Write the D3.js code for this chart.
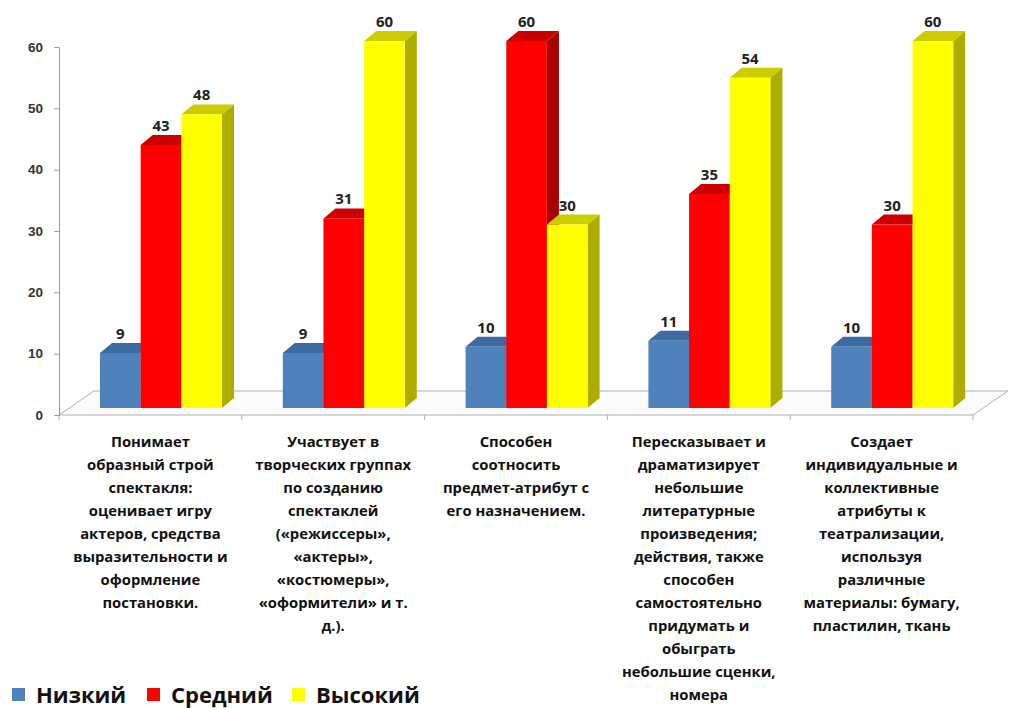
<!DOCTYPE html>
<html>
<head>
<meta charset="utf-8">
<script src="https://cdn.jsdelivr.net/npm/d3@7"></script>
<style>
  body { margin: 0; background: #fff; }
  svg { display: block; font-family: "Open Sans", "DejaVu Sans", sans-serif; }
  .axis text { font-size: 13.5px; font-weight: bold; fill: #333; }
  .axis path, .axis line { stroke: #999; }
  .vlabel { font-size: 15px; font-weight: bold; fill: #222; text-anchor: middle; }
  .catlabel { font-size: 14.8px; font-weight: bold; fill: #111; text-anchor: middle; }
  .legend text { font-size: 22px; font-weight: bold; fill: #111; }
</style>
</head>
<body>
<script>
var width = 1009, height = 708;

// categories (label lines)
var categories = [
  ["Понимает", "образный строй", "спектакля:", "оценивает игру", "актеров, средства", "выразительности и", "оформление", "постановки."],
  ["Участвует в", "творческих группах", "по созданию", "спектаклей", "(«режиссеры»,", "«актеры»,", "«костюмеры»,", "«оформители» и т.", "д.)."],
  ["Способен", "соотносить", "предмет-атрибут с", "его назначением."],
  ["Пересказывает и", "драматизирует", "небольшие", "литературные", "произведения;", "действия, также", "способен", "самостоятельно", "придумать и", "обыграть", "небольшие сценки,", "номера"],
  ["Создает", "индивидуальные и", "коллективные", "атрибуты к", "театрализации,", "используя", "различные", "материалы: бумагу,", "пластилин, ткань"]
];
var seriesNames = ["Низкий", "Средний", "Высокий"];
var lowValues  = [9, 9, 10, 11, 10];
var midValues  = [43, 31, 60, 35, 30];
var highValues = [48, 60, 30, 54, 60];
var yTicks = [0, 10, 20, 30, 40, 50, 60];

var seriesValues = [lowValues, midValues, highValues];
var colors = [
  {front: "#4f81bd", top: "#3c6aa3", side: "#355f93"},
  {front: "#ff0000", top: "#cc0000", side: "#a80000"},
  {front: "#ffff00", top: "#cccc00", side: "#adad00"}
];
var depth = {dx: 12, dy: -10};

var svg = d3.select("body").append("svg")
    .attr("width", width)
    .attr("height", height);

var idx = d3.range(categories.length);

var xBand = d3.scaleBand().domain(idx).range([59, 973]).padding(0);
var xInner = d3.scaleBand().domain(d3.range(seriesNames.length)).range([41, 163]);

var yAxisScale = d3.scaleLinear().domain([0, 60]).range([415, 47]);
var yBar = d3.scaleLinear().domain([0, 60]).range([408, 41]);

// floor
var fl = {x0: 59, x1: 973, y0: 415, ox: 35, oy: -24};
svg.append("path")
    .attr("d", "M" + fl.x0 + "," + fl.y0 + " L" + (fl.x0 + fl.ox) + "," + (fl.y0 + fl.oy) +
               " L" + (fl.x1 + fl.ox) + "," + (fl.y0 + fl.oy) + " L" + fl.x1 + "," + fl.y0 + " Z")
    .attr("fill", "#fcfcfc")
    .attr("stroke", "#b0b0b0")
    .attr("stroke-width", 1);

// tick marks on floor front edge
svg.append("g").selectAll("line")
    .data(d3.range(categories.length + 1))
    .enter().append("line")
    .attr("x1", function(i) { return i < categories.length ? xBand(i) : xBand.range()[1]; })
    .attr("x2", function(i) { return i < categories.length ? xBand(i) : xBand.range()[1]; })
    .attr("y1", fl.y0)
    .attr("y2", fl.y0 + 5)
    .attr("stroke", "#b0b0b0");

// y axis
svg.append("g")
    .attr("class", "axis")
    .attr("transform", "translate(59,0)")
    .call(d3.axisLeft(yAxisScale).tickValues(yTicks).tickSize(5).tickSizeOuter(0).tickPadding(11));

// bars
var bars = [];
idx.forEach(function(c) {
  seriesValues.forEach(function(vals, s) {
    bars.push({c: c, s: s, v: vals[c]});
  });
});

svg.append("g").selectAll("g")
    .data(bars)
    .enter().append("g")
    .each(function(d) {
      var g = d3.select(this);
      var x0 = xBand(d.c) + xInner(d.s);
      var x1 = x0 + xInner.bandwidth();
      var yt = yBar(d.v), yb = yBar(0);
      var col = colors[d.s];
      // side
      g.append("path")
        .attr("d", "M" + x1 + "," + yb + " L" + (x1 + depth.dx) + "," + (yb + depth.dy) +
                   " L" + (x1 + depth.dx) + "," + (yt + depth.dy) + " L" + x1 + "," + yt + " Z")
        .attr("fill", col.side);
      // top
      g.append("path")
        .attr("d", "M" + x0 + "," + yt + " L" + (x0 + depth.dx) + "," + (yt + depth.dy) +
                   " L" + (x1 + depth.dx) + "," + (yt + depth.dy) + " L" + x1 + "," + yt + " Z")
        .attr("fill", col.top);
      // front
      g.append("rect")
        .attr("x", x0)
        .attr("y", yt)
        .attr("width", xInner.bandwidth())
        .attr("height", yb - yt)
        .attr("fill", col.front);
    });

// value labels
svg.append("g").selectAll("text")
    .data(bars)
    .enter().append("text")
    .attr("class", "vlabel")
    .attr("x", function(d) { return xBand(d.c) + xInner(d.s) + xInner.bandwidth() / 2; })
    .attr("y", function(d) { return yBar(d.v) + depth.dy - 4; })
    .text(function(d) { return d.v; });

// category labels
var catG = svg.append("g").selectAll("text")
    .data(idx)
    .enter().append("text")
    .attr("class", "catlabel")
    .attr("x", function(i) { return xBand(i) + xBand.bandwidth() / 2; })
    .attr("y", 447);
catG.selectAll("tspan")
    .data(function(i) { return categories[i].map(function(l) { return {line: l, i: i}; }); })
    .enter().append("tspan")
    .attr("x", function(d) { return xBand(d.i) + xBand.bandwidth() / 2; })
    .attr("dy", function(d, j) { return j === 0 ? 0 : 23; })
    .text(function(d) { return d.line; });

// legend
var legendX = [12, 147, 292];
var legend = svg.append("g").attr("class", "legend")
    .selectAll("g")
    .data(seriesNames)
    .enter().append("g")
    .attr("transform", function(d, i) { return "translate(" + legendX[i] + ",0)"; });
legend.append("rect")
    .attr("x", 0).attr("y", 688)
    .attr("width", 13).attr("height", 13)
    .attr("fill", function(d, i) { return colors[i].front; });
legend.append("text")
    .attr("x", 24).attr("y", 703)
    .text(function(d) { return d; });
</script>
</body>
</html>
